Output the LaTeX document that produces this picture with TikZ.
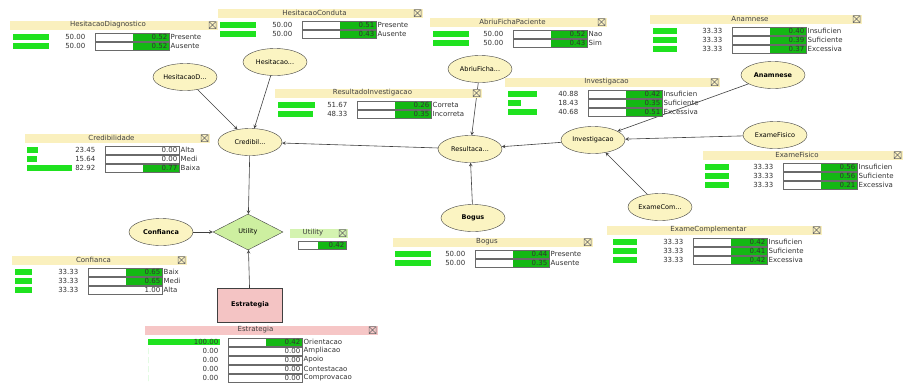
\documentclass[tikz,border=0pt]{standalone}
\usepackage{fontspec}
\setmainfont{DejaVu Sans}
\usetikzlibrary{shapes.geometric}
\definecolor{nodeyellow}{HTML}{FBF4C2}
\definecolor{titleyellow}{HTML}{FAF0BE}
\definecolor{titlepink}{HTML}{F6C6C6}
\definecolor{titlegreen}{HTML}{D4F3B0}
\definecolor{decpink}{HTML}{F4C4C4}
\definecolor{utilfill}{HTML}{CDEFA0}
\definecolor{probgreen}{HTML}{1FE21F}
\definecolor{utilgreen}{HTML}{14B814}
\definecolor{edgegray}{HTML}{404040}
\definecolor{boxgray}{HTML}{6A6A6A}

\newcommand{\paneltitle}[6]{%
  \fill[#6] (#2,#4-4.5) rectangle (#3,#4+4.5);
  \node[titletext] (#1) at ({(#2+#3)/2-6},#4) {#5};
  \draw[closebox] (#3-9,#4-3.5) rectangle (#3-2,#4+3.5)
    (#3-9,#4-3.5) -- (#3-2,#4+3.5) (#3-9,#4+3.5) -- (#3-2,#4-3.5);
}
\newcommand{\probrow}[9]{%
  \fill[probgreen] (#2,#4-3) rectangle ++(#5,6);
  \node[rowtext, anchor=east] (#1-p) at (#3-9,#4) {#6};
  \draw[boxline] (#3,#4-4) rectangle (#3+74,#4+4);
  \fill[#8] (#3+38,#4-3.5) rectangle (#3+73.5,#4+3.5);
  \node[rowtext, anchor=east] (#1-u) at (#3+73,#4) {#7};
  \node[rowtext, anchor=west] (#1-s) at (#3+75,#4) {#9};
}

\begin{document}
\begin{tikzpicture}[x=1pt, y=-1pt,
  varnode/.style={ellipse, draw=edgegray, fill=nodeyellow, minimum width=64pt,
                  minimum height=27pt, inner sep=0pt, font=\fontsize{6.5}{7}\selectfont},
  utilnode/.style={diamond, draw=edgegray, fill=utilfill, minimum width=70pt,
                   minimum height=36pt, inner sep=0pt, font=\fontsize{6.5}{7}\selectfont},
  decnode/.style={rectangle, draw=edgegray, fill=decpink, minimum width=65pt,
                  minimum height=34pt, font=\fontsize{6.5}{7}\selectfont\bfseries},
  arrow/.style={->, >=stealth, color=edgegray, line width=0.6pt},
  titletext/.style={font=\fontsize{7}{8}\selectfont, color=black!75, inner sep=0pt},
  rowtext/.style={font=\fontsize{7}{8}\selectfont, color=black!80, inner sep=0.5pt},
  boxline/.style={draw=boxgray, fill=white, line width=0.5pt},
  closebox/.style={draw=boxgray, line width=0.5pt},
]
  \useasboundingbox (0,0) rectangle (903,389);

  \node[varnode] (hesd)   at (185,77)  {HesitacaoD...};
  \node[varnode] (hesc)   at (275,62)  {Hesitacao...};
  \node[varnode] (abriu)  at (480,69)  {AbriuFicha...};
  \node[varnode, font=\fontsize{6.5}{7}\selectfont\bfseries] (anam) at (773,75) {Anamnese};
  \node[varnode] (cred)   at (250,142) {Credibil...};
  \node[varnode] (result) at (470,149) {Resultaca...};
  \node[varnode] (invest) at (593,140) {Investigacao};
  \node[varnode] (exfis)  at (775,135) {ExameFisico};
  \node[varnode] (excom)  at (660,207) {ExameCom...};
  \node[varnode, font=\fontsize{6.5}{7}\selectfont\bfseries] (bogus) at (473,218) {Bogus};
  \node[varnode, font=\fontsize{6.5}{7}\selectfont\bfseries] (conf)  at (161,232) {Confianca};
  \node[utilnode] (util)  at (248,232) {Utility};
  \node[decnode]  (estr)  at (250,305) {Estrategia};

  \draw[arrow] (hesd)   -- (cred);
  \draw[arrow] (hesc)   -- (cred);
  \draw[arrow] (result) -- (cred);
  \draw[arrow] (abriu)  -- (result);
  \draw[arrow] (bogus)  -- (result);
  \draw[arrow] (invest) -- (result);
  \draw[arrow] (anam)   -- (invest);
  \draw[arrow] (exfis)  -- (invest);
  \draw[arrow] (excom)  -- (invest);
  \draw[arrow] (cred)   -- (util);
  \draw[arrow] (conf)   -- (util);
  \draw[arrow] (estr)   -- (util);

  \paneltitle{hdpanel}{10}{218}{25}{HesitacaoDiagnostico}{titleyellow}
  \probrow{hd1}{13}{95}{37}{36}{50.00}{0.52}{utilgreen}{Presente}
  \probrow{hd2}{13}{95}{46}{36}{50.00}{0.52}{utilgreen}{Ausente}

  \paneltitle{hcpanel}{218}{423}{13}{HesitacaoConduta}{titleyellow}
  \probrow{hc1}{220}{302}{25}{36}{50.00}{0.51}{utilgreen}{Presente}
  \probrow{hc2}{220}{302}{34}{36}{50.00}{0.43}{utilgreen}{Ausente}

  \paneltitle{afpanel}{430}{607}{22}{AbriuFichaPaciente}{titleyellow}
  \probrow{af1}{433}{513}{34}{36}{50.00}{0.52}{utilgreen}{Nao}
  \probrow{af2}{433}{513}{43}{36}{50.00}{0.43}{utilgreen}{Sim}

  \paneltitle{anpanel}{650}{862}{19}{Anamnese}{titleyellow}
  \probrow{an1}{653}{732}{31}{24}{33.33}{0.40}{utilgreen}{Insuficien}
  \probrow{an2}{653}{732}{40}{24}{33.33}{0.39}{utilgreen}{Suficiente}
  \probrow{an3}{653}{732}{49}{24}{33.33}{0.37}{utilgreen}{Excessiva}

  \paneltitle{invpanel}{505}{720}{82}{Investigacao}{titleyellow}
  \probrow{inv1}{508}{588}{94}{29}{40.88}{0.42}{utilgreen}{Insuficien}
  \probrow{inv2}{508}{588}{103}{13}{18.43}{0.35}{utilgreen}{Suficiente}
  \probrow{inv3}{508}{588}{112}{29}{40.68}{0.51}{utilgreen}{Excessiva}

  \paneltitle{efpanel}{703}{903}{155}{ExameFisico}{titleyellow}
  \probrow{ef1}{705}{783}{167}{24}{33.33}{0.56}{utilgreen}{Insuficien}
  \probrow{ef2}{705}{783}{176}{24}{33.33}{0.56}{utilgreen}{Suficiente}
  \probrow{ef3}{705}{783}{185}{24}{33.33}{0.21}{utilgreen}{Excessiva}

  \paneltitle{ecpanel}{607}{822}{230}{ExameComplementar}{titleyellow}
  \probrow{ec1}{613}{693}{242}{24}{33.33}{0.42}{utilgreen}{Insuficien}
  \probrow{ec2}{613}{693}{251}{24}{33.33}{0.41}{utilgreen}{Suficiente}
  \probrow{ec3}{613}{693}{260}{24}{33.33}{0.42}{utilgreen}{Excessiva}

  \paneltitle{bgpanel}{393}{593}{242}{Bogus}{titleyellow}
  \probrow{bg1}{395}{475}{254}{36}{50.00}{0.44}{utilgreen}{Presente}
  \probrow{bg2}{395}{475}{263}{36}{50.00}{0.35}{utilgreen}{Ausente}

  \paneltitle{rspanel}{275}{482}{93}{ResultadoInvestigacao}{titleyellow}
  \probrow{rs1}{278}{357}{105}{37}{51.67}{0.26}{utilgreen}{Correta}
  \probrow{rs2}{278}{357}{114}{35}{48.33}{0.35}{utilgreen}{Incorreta}

  \paneltitle{crpanel}{25}{210}{138}{Credibilidade}{titleyellow}
  \probrow{cr1}{27}{105}{150}{11}{23.45}{0.00}{white}{Alta}
  \probrow{cr2}{27}{105}{159}{10}{15.64}{0.00}{white}{Medi}
  \probrow{cr3}{27}{105}{168}{45}{82.92}{0.77}{utilgreen}{Baixa}

  \paneltitle{cfpanel}{12}{187}{260}{Confianca}{titleyellow}
  \probrow{cf1}{15}{88}{272}{17}{33.33}{0.65}{utilgreen}{Baix}
  \probrow{cf2}{15}{88}{281}{17}{33.33}{0.65}{utilgreen}{Medi}
  \probrow{cf3}{15}{88}{290}{17}{33.33}{1.00}{white}{Alta}

  \paneltitle{stpanel}{145}{378}{330}{Estrategia}{titlepink}
  \probrow{st1}{148}{228}{342}{72}{100.00}{0.42}{utilgreen}{Orientacao}
  \probrow{st2}{148}{228}{351}{0}{0.00}{0.00}{white}{Ampliacao}
  \probrow{st3}{148}{228}{360}{0}{0.00}{0.00}{white}{Apoio}
  \probrow{st4}{148}{228}{369}{0}{0.00}{0.00}{white}{Contestacao}
  \probrow{st5}{148}{228}{378}{0}{0.00}{0.00}{white}{Comprovacao}

  \paneltitle{utpanel}{290}{348}{233}{Utility}{titlegreen}
  \draw[boxline] (298,241) rectangle (346,249);
  \fill[utilgreen] (318,241.5) rectangle (345.5,248.5);
  \node[rowtext, anchor=east] (ut1-u) at (345,245) {0.42};
\end{tikzpicture}
\end{document}
